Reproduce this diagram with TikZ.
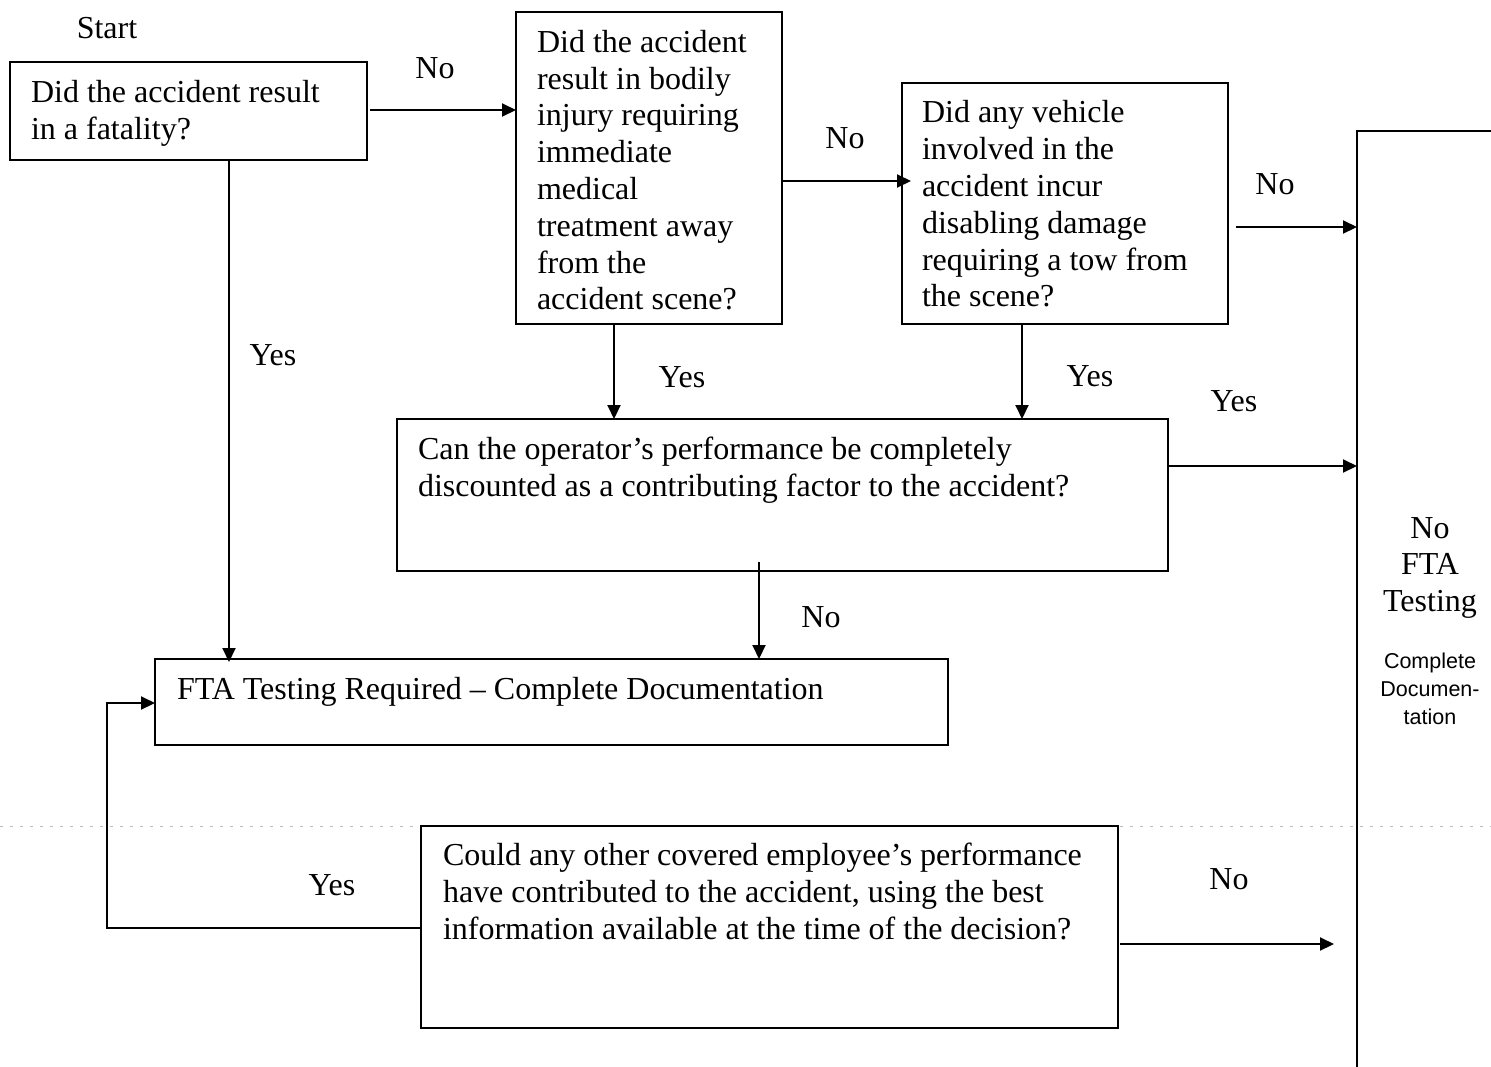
\documentclass[tikz,border=0pt]{standalone}
\usepackage{fontspec}
\setmainfont{Liberation Serif}
\setsansfont{Liberation Sans}
\usetikzlibrary{arrows.meta,calc}
\begin{document}
\begin{tikzpicture}[x=1pt,y=-1pt,
  box/.style={draw,line width=2pt,anchor=north west,inner sep=0pt,outer sep=0pt},
  txt/.style={anchor=north west,inner sep=0pt,outer sep=0pt,align=left,font=\fontsize{32}{36.8}\selectfont},
  lbl/.style={anchor=base,inner sep=0pt,font=\fontsize{32}{36.8}\selectfont},
  arr/.style={line width=2pt,-{Triangle[length=14pt,width=13pt]}},
  ln/.style={line width=2pt}]
\useasboundingbox (0,0) rectangle (1491,1066);
% faint scan line
\draw[gray!55,line width=1pt,dash pattern=on 3pt off 7pt] (0,826) -- (420,826);
\draw[gray!55,line width=1pt,dash pattern=on 3pt off 7pt] (1120,826) -- (1491,826);
% boxes
\node[box,minimum width=357pt,minimum height=98pt] (b1) at (10,62) {};
\node[box,minimum width=266pt,minimum height=312pt] (b2) at (516,12) {};
\node[box,minimum width=326pt,minimum height=241pt] (b3) at (902,83) {};
\node[box,minimum width=771pt,minimum height=152pt] (b4) at (397,419) {};
\node[box,minimum width=793pt,minimum height=86pt] (b5) at (155,659) {};
\node[box,minimum width=697pt,minimum height=202pt] (b6) at (421,826) {};
\node[box,minimum width=200pt,minimum height=960pt] (rb) at (1357,131) {};
% texts
\node[lbl] (start) at (107,38) {Start};
\node[txt] (t1) at (31,76.5) {\strut Did the accident result\\in a fatality?};
\node[txt] (t2) at (537,26.6) {\strut Did the accident\\result in bodily\\injury requiring\\immediate\\medical\\treatment away\\from the\\accident scene?};
\node[txt] (t3) at (922,97.1) {\strut Did any vehicle\\involved in the\\accident incur\\disabling damage\\requiring a tow from\\the scene?};
\node[txt] (t4) at (418,434.1) {\strut Can the operator’s performance be completely\\discounted as a contributing factor to the accident?};
\node[txt] (t5) at (177,674.1) {\strut FTA Testing Required – Complete Documentation};
\node[txt] (t6) at (443,840.1) {\strut Could any other covered employee’s performance\\have contributed to the accident, using the best\\information available at the time of the decision?};
\node[anchor=north,inner sep=0pt,align=center,font=\fontsize{32}{36.8}\selectfont] (rt1) at (1430,512.1) {\strut No\\FTA\\Testing};
\node[anchor=north,inner sep=0pt,align=center,font=\sffamily\fontsize{21.5}{28}\selectfont] (rt2) at (1430,648.4) {\strut Complete\\Documen-\\tation};
% connectors
\coordinate (a1) at (370,110);
\draw[arr] (a1) -- (a1 -| b2.west);
\node[lbl] (l1) at (435,78) {No};
\coordinate (a2) at (782,181);
\draw[arr] (a2) -- ($(a2 -| b3.west)+(9,0)$);
\node[lbl] (l2) at (845,148) {No};
\coordinate (a3) at (1236,227);
\draw[arr] (a3) -- (a3 -| rb.west);
\node[lbl] (l3) at (1275,194) {No};
\coordinate (a4) at (614,324);
\draw[arr] (a4) -- (a4 |- b4.north);
\node[lbl] (l4) at (682,387) {Yes};
\coordinate (a5) at (1022,324);
\draw[arr] (a5) -- (a5 |- b4.north);
\node[lbl] (l5) at (1090,386) {Yes};
\coordinate (a6) at (1168,466);
\draw[arr] (a6) -- (a6 -| rb.west);
\node[lbl] (l6) at (1234,411) {Yes};
\coordinate (a7) at (759,562);
\draw[arr] (a7) -- (a7 |- b5.north);
\node[lbl] (l7) at (821,627) {No};
\coordinate (a8) at (229,160);
\draw[arr] (a8) -- ($(a8 |- b5.north)+(0,3)$);
\node[lbl] (l8) at (273,365) {Yes};
\coordinate (a9) at (421,928);
\coordinate (a9b) at (107,928);
\draw[arr] (a9) -- (a9b) -- (a9b |- 0,703) -- (b5.west |- 0,703);
\node[lbl] (l9) at (332,895) {Yes};
\coordinate (a10) at (1120,944);
\draw[arr] (a10) -- (1334,944);
\node[lbl] (l10) at (1229,889) {No};
\end{tikzpicture}
\end{document}
